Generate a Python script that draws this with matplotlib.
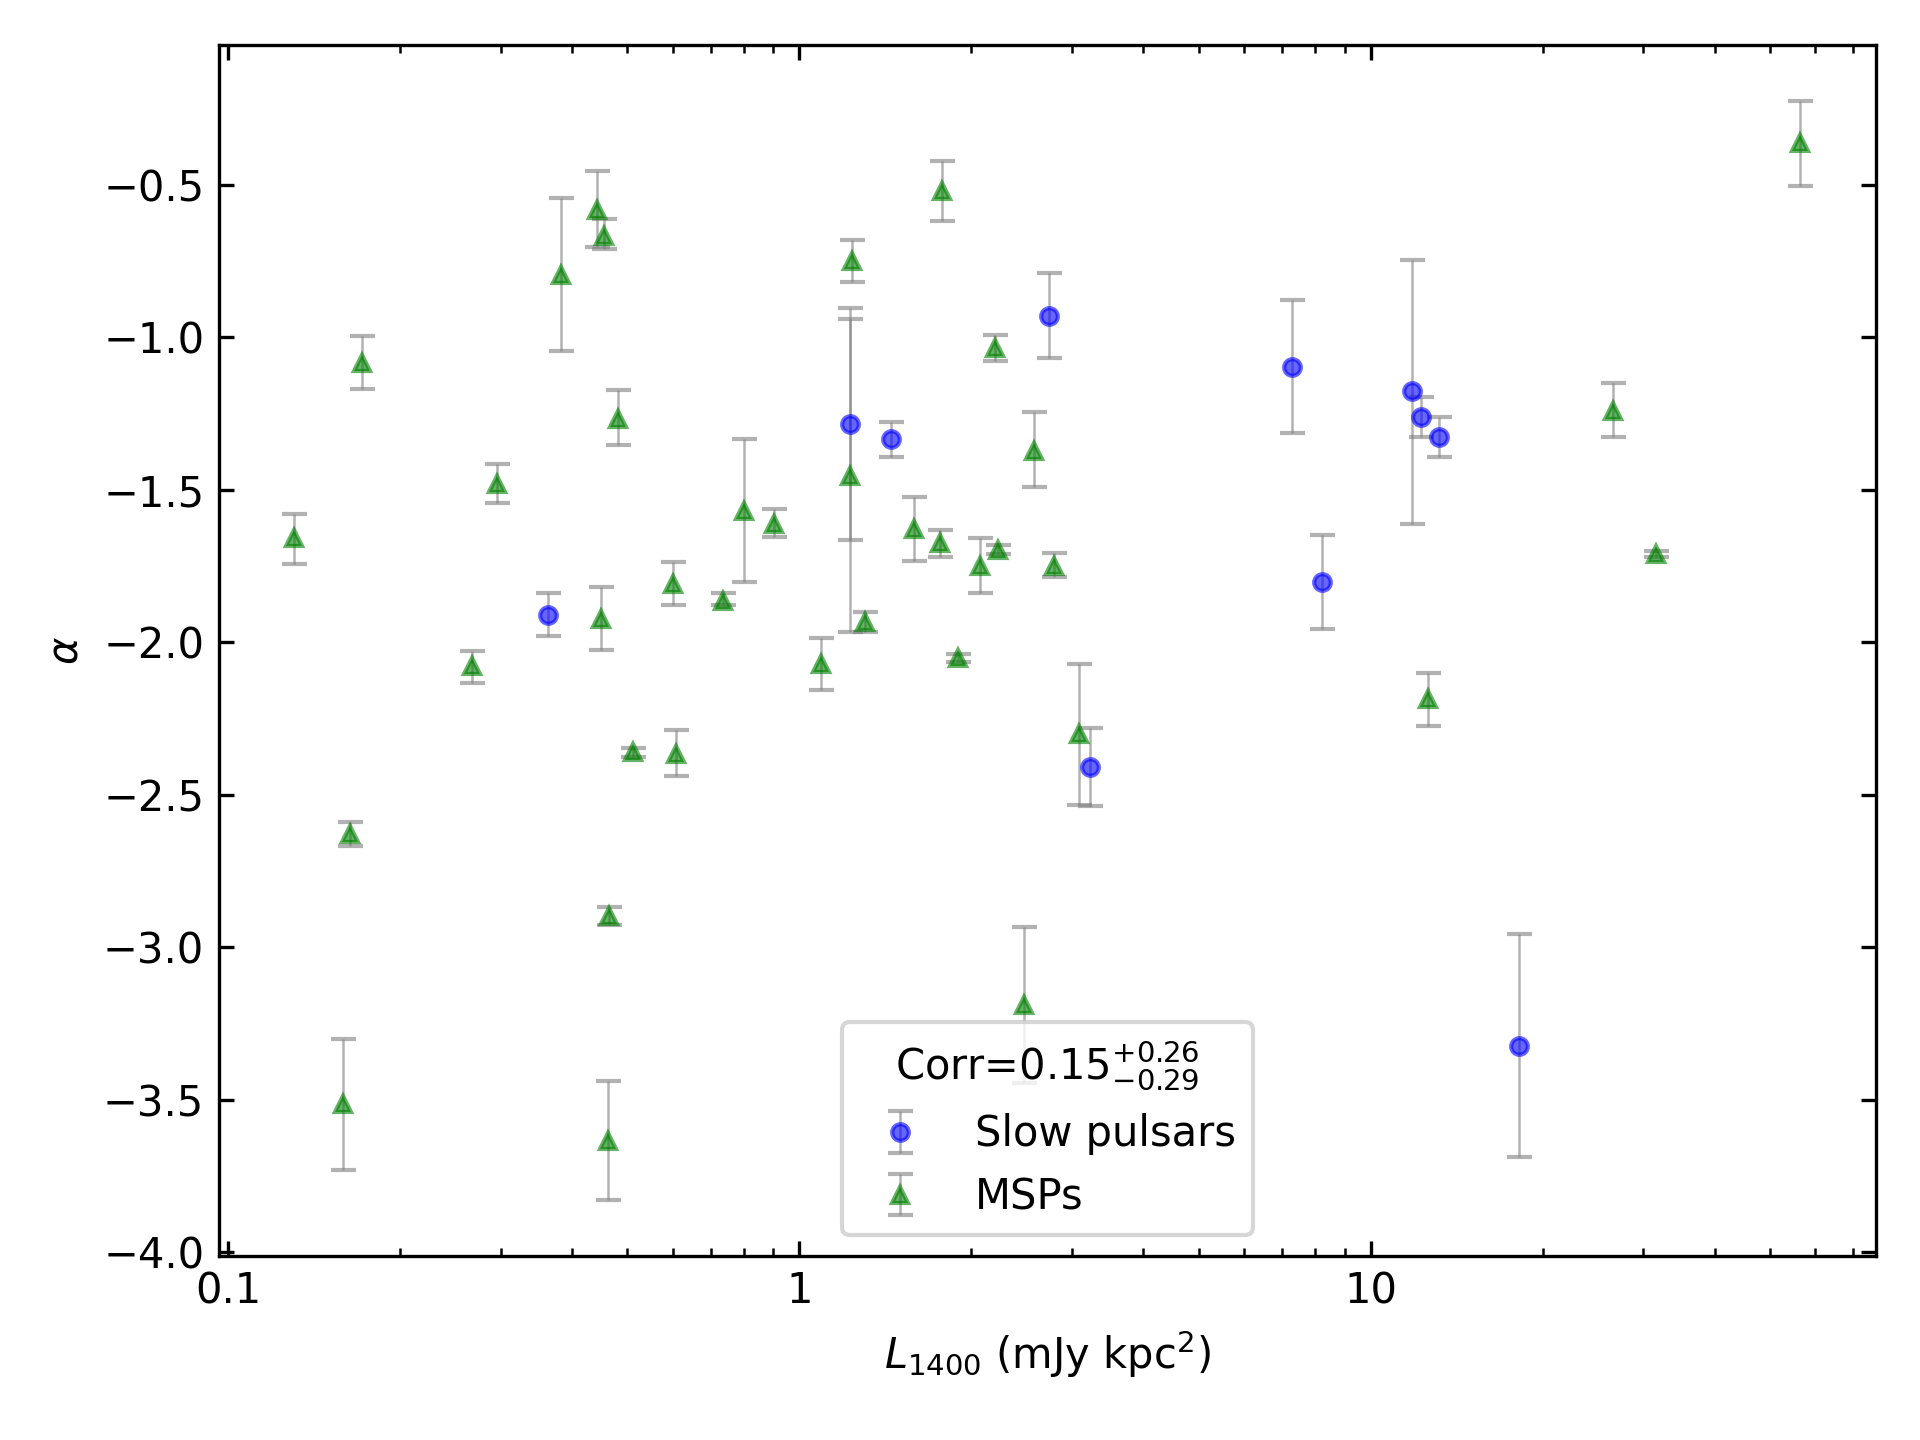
import numpy as np
import matplotlib
matplotlib.use("Agg")
import matplotlib.pyplot as plt
from matplotlib.ticker import FormatStrFormatter, NullFormatter

# Slow pulsars: luminosity, spectral index, lower / upper errors
slow_L = [0.363, 1.225, 1.447, 2.734, 3.23, 7.27, 8.21, 11.79, 12.26, 13.16, 18.21]
slow_alpha = [-1.910, -1.286, -1.334, -0.931, -2.411, -1.097, -1.804, -1.178, -1.261, -1.326, -3.324]
slow_lo = [0.069, 0.378, 0.060, 0.139, 0.127, 0.218, 0.153, 0.434, 0.065, 0.067, 0.365]
slow_hi = [0.070, 0.346, 0.054, 0.141, 0.128, 0.219, 0.155, 0.430, 0.065, 0.065, 0.366]

# MSPs
msp_L = [0.1307, 0.1713, 0.2953, 0.382, 0.4418, 0.4548, 0.4808, 0.449, 0.600, 0.7366,
         0.7987, 0.904, 1.09, 1.239, 1.228, 1.301, 1.589, 1.764, 1.779, 1.893,
         2.073, 2.199, 2.230, 2.47, 2.576, 2.789, 3.088, 12.61, 26.52, 31.52,
         56.4, 0.2675, 0.5123, 0.6084, 0.1634, 0.4637, 0.1588, 0.463]
msp_alpha = [-1.660, -1.085, -1.481, -0.796, -0.582, -0.668, -1.269, -1.925, -1.809, -1.865,
             -1.569, -1.612, -2.072, -0.752, -1.454, -1.934, -1.629, -1.676, -0.521, -2.052,
             -1.750, -1.035, -1.697, -3.190, -1.372, -1.750, -2.303, -2.186, -1.241, -1.711,
             -0.364, -2.080, -2.361, -2.368, -2.628, -2.898, -3.515, -3.636]
msp_lo = [0.084, 0.086, 0.064, 0.249, 0.124, 0.044, 0.086, 0.100, 0.069, 0.012,
          0.234, 0.044, 0.084, 0.066, 0.514, 0.032, 0.104, 0.045, 0.099, 0.012,
          0.088, 0.043, 0.015, 0.255, 0.119, 0.038, 0.232, 0.088, 0.085, 0.010,
          0.142, 0.054, 0.015, 0.071, 0.040, 0.030, 0.217, 0.193]
msp_hi = [0.079, 0.089, 0.066, 0.252, 0.128, 0.054, 0.094, 0.106, 0.073, 0.025,
          0.234, 0.050, 0.086, 0.071, 0.550, 0.034, 0.104, 0.044, 0.100, 0.012,
          0.091, 0.042, 0.015, 0.257, 0.126, 0.041, 0.231, 0.085, 0.089, 0.010,
          0.137, 0.052, 0.015, 0.080, 0.039, 0.030, 0.213, 0.197]

fig, ax = plt.subplots(figsize=(6.4, 4.8), dpi=300)
fig.subplots_adjust(left=0.114, right=0.977, bottom=0.128, top=0.969)

ax.errorbar(slow_L, slow_alpha, yerr=[slow_lo, slow_hi], fmt='o', color='blue',
            ms=4, ecolor='gray', elinewidth=0.6, capsize=3, alpha=0.6,
            label='Slow pulsars')
ax.errorbar(msp_L, msp_alpha, yerr=[msp_lo, msp_hi], fmt='^', color='green',
            ms=4, ecolor='gray', elinewidth=0.6, capsize=3, alpha=0.6,
            label='MSPs')

ax.set_xscale('log')
ax.set_xlim(0.0964, 76.6)
ax.set_ylim(-4.012, -0.041)
ax.xaxis.set_major_formatter(FormatStrFormatter('%g'))
ax.xaxis.set_minor_formatter(NullFormatter())
ax.tick_params(which='both', direction='in', top=True, right=True)

ax.set_xlabel(r'$L_{1400}$ (mJy kpc$^2$)')
ax.set_ylabel(r'$\alpha$')
ax.legend(title=r'Corr=$0.15^{+0.26}_{-0.29}$', loc='lower center',
          title_fontsize=10)

fig.savefig('out.png', dpi=300)
